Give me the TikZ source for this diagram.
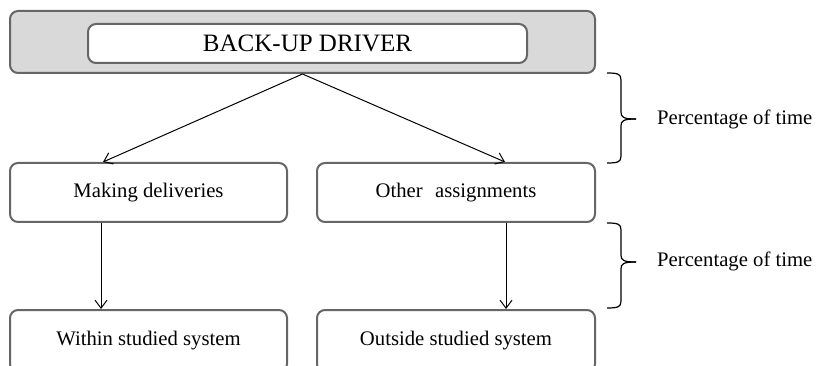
\documentclass[tikz,border=0pt]{standalone}
\usepackage{fontspec}
\setmainfont{Liberation Serif}
\usetikzlibrary{arrows.meta}
\definecolor{boxline}{HTML}{666666}
\definecolor{panelfill}{HTML}{D9D9D9}
\tikzset{
  panel/.style={draw=boxline, line width=2pt, rounded corners=8pt, fill=panelfill},
  item/.style={draw=boxline, line width=2pt, rounded corners=8pt, fill=white,
    inner sep=0pt, font=\fontsize{20.7}{24}\selectfont},
  label/.style={inner sep=0pt, font=\fontsize{20.7}{24}\selectfont, anchor=west},
  flow/.style={draw=black, line width=1pt, -{Straight Barb[length=8pt,width=12pt,line width=1pt]}},
  bracket/.style={draw=black, line width=1.2pt}
}
\begin{document}
\begin{tikzpicture}[x=1pt,y=-1pt]
  \useasboundingbox (0,0) rectangle (817,366);
  \clip (0,0) rectangle (817,366);

  % header panel with its title box
  \node[panel, minimum width=585pt, minimum height=62pt] (outer) at (302.5,42) {};
  \node[item, minimum width=439pt, minimum height=39pt,
        font=\fontsize{25}{28}\selectfont] (top) at (307.5,43.5) {BACK-UP DRIVER};

  % first level: kinds of work
  \node[item, minimum width=277pt, minimum height=59pt] (md) at (148.5,192.5) {Making deliveries};
  \node[item, minimum width=278pt, minimum height=59pt] (oa) at (456,192.5) {Other\hspace{0.35em} assignments};

  % second level: system boundary
  \node[item, minimum width=277pt, minimum height=62pt] (ws) at (148.5,341) {Within studied system};
  \node[item, minimum width=278pt, minimum height=62pt] (os) at (456,341) {Outside studied system};

  % connectors
  \draw[flow] (outer.south) -- ([xshift=-45.5pt]md.north);
  \draw[flow] (outer.south) -- ([xshift=49pt]oa.north);
  \draw[flow] ([xshift=-47.5pt]md.south) -- ([xshift=-47.5pt]ws.north);
  \draw[flow] ([xshift=50pt]oa.south) -- ([xshift=50pt]os.north);

  % braces and their labels
  \coordinate (b1t) at (607,73);
  \coordinate (b1m) at (636,119);
  \coordinate (b1b) at (607,163);
  \coordinate (b2t) at (607,223);
  \coordinate (b2m) at (636,262);
  \coordinate (b2b) at (607,308);

  \draw[bracket] (b1t) .. controls (618,73) and (621,74) .. (621,80)
     -- (621,112) .. controls (621,117) and (623,119) .. (b1m);
  \draw[bracket] (b1m) .. controls (623,119) and (621,121) .. (621,126)
     -- (621,156) .. controls (621,162) and (618,163) .. (b1b);
  \draw[bracket] (b2t) .. controls (618,223) and (621,224) .. (621,230)
     -- (621,255) .. controls (621,260) and (623,262) .. (b2m);
  \draw[bracket] (b2m) .. controls (623,262) and (621,264) .. (621,269)
     -- (621,301) .. controls (621,307) and (618,308) .. (b2b);

  \node[label] (p1) at (657,119) {Percentage of time};
  \node[label] (p2) at (657,261) {Percentage of time};
\end{tikzpicture}
\end{document}
